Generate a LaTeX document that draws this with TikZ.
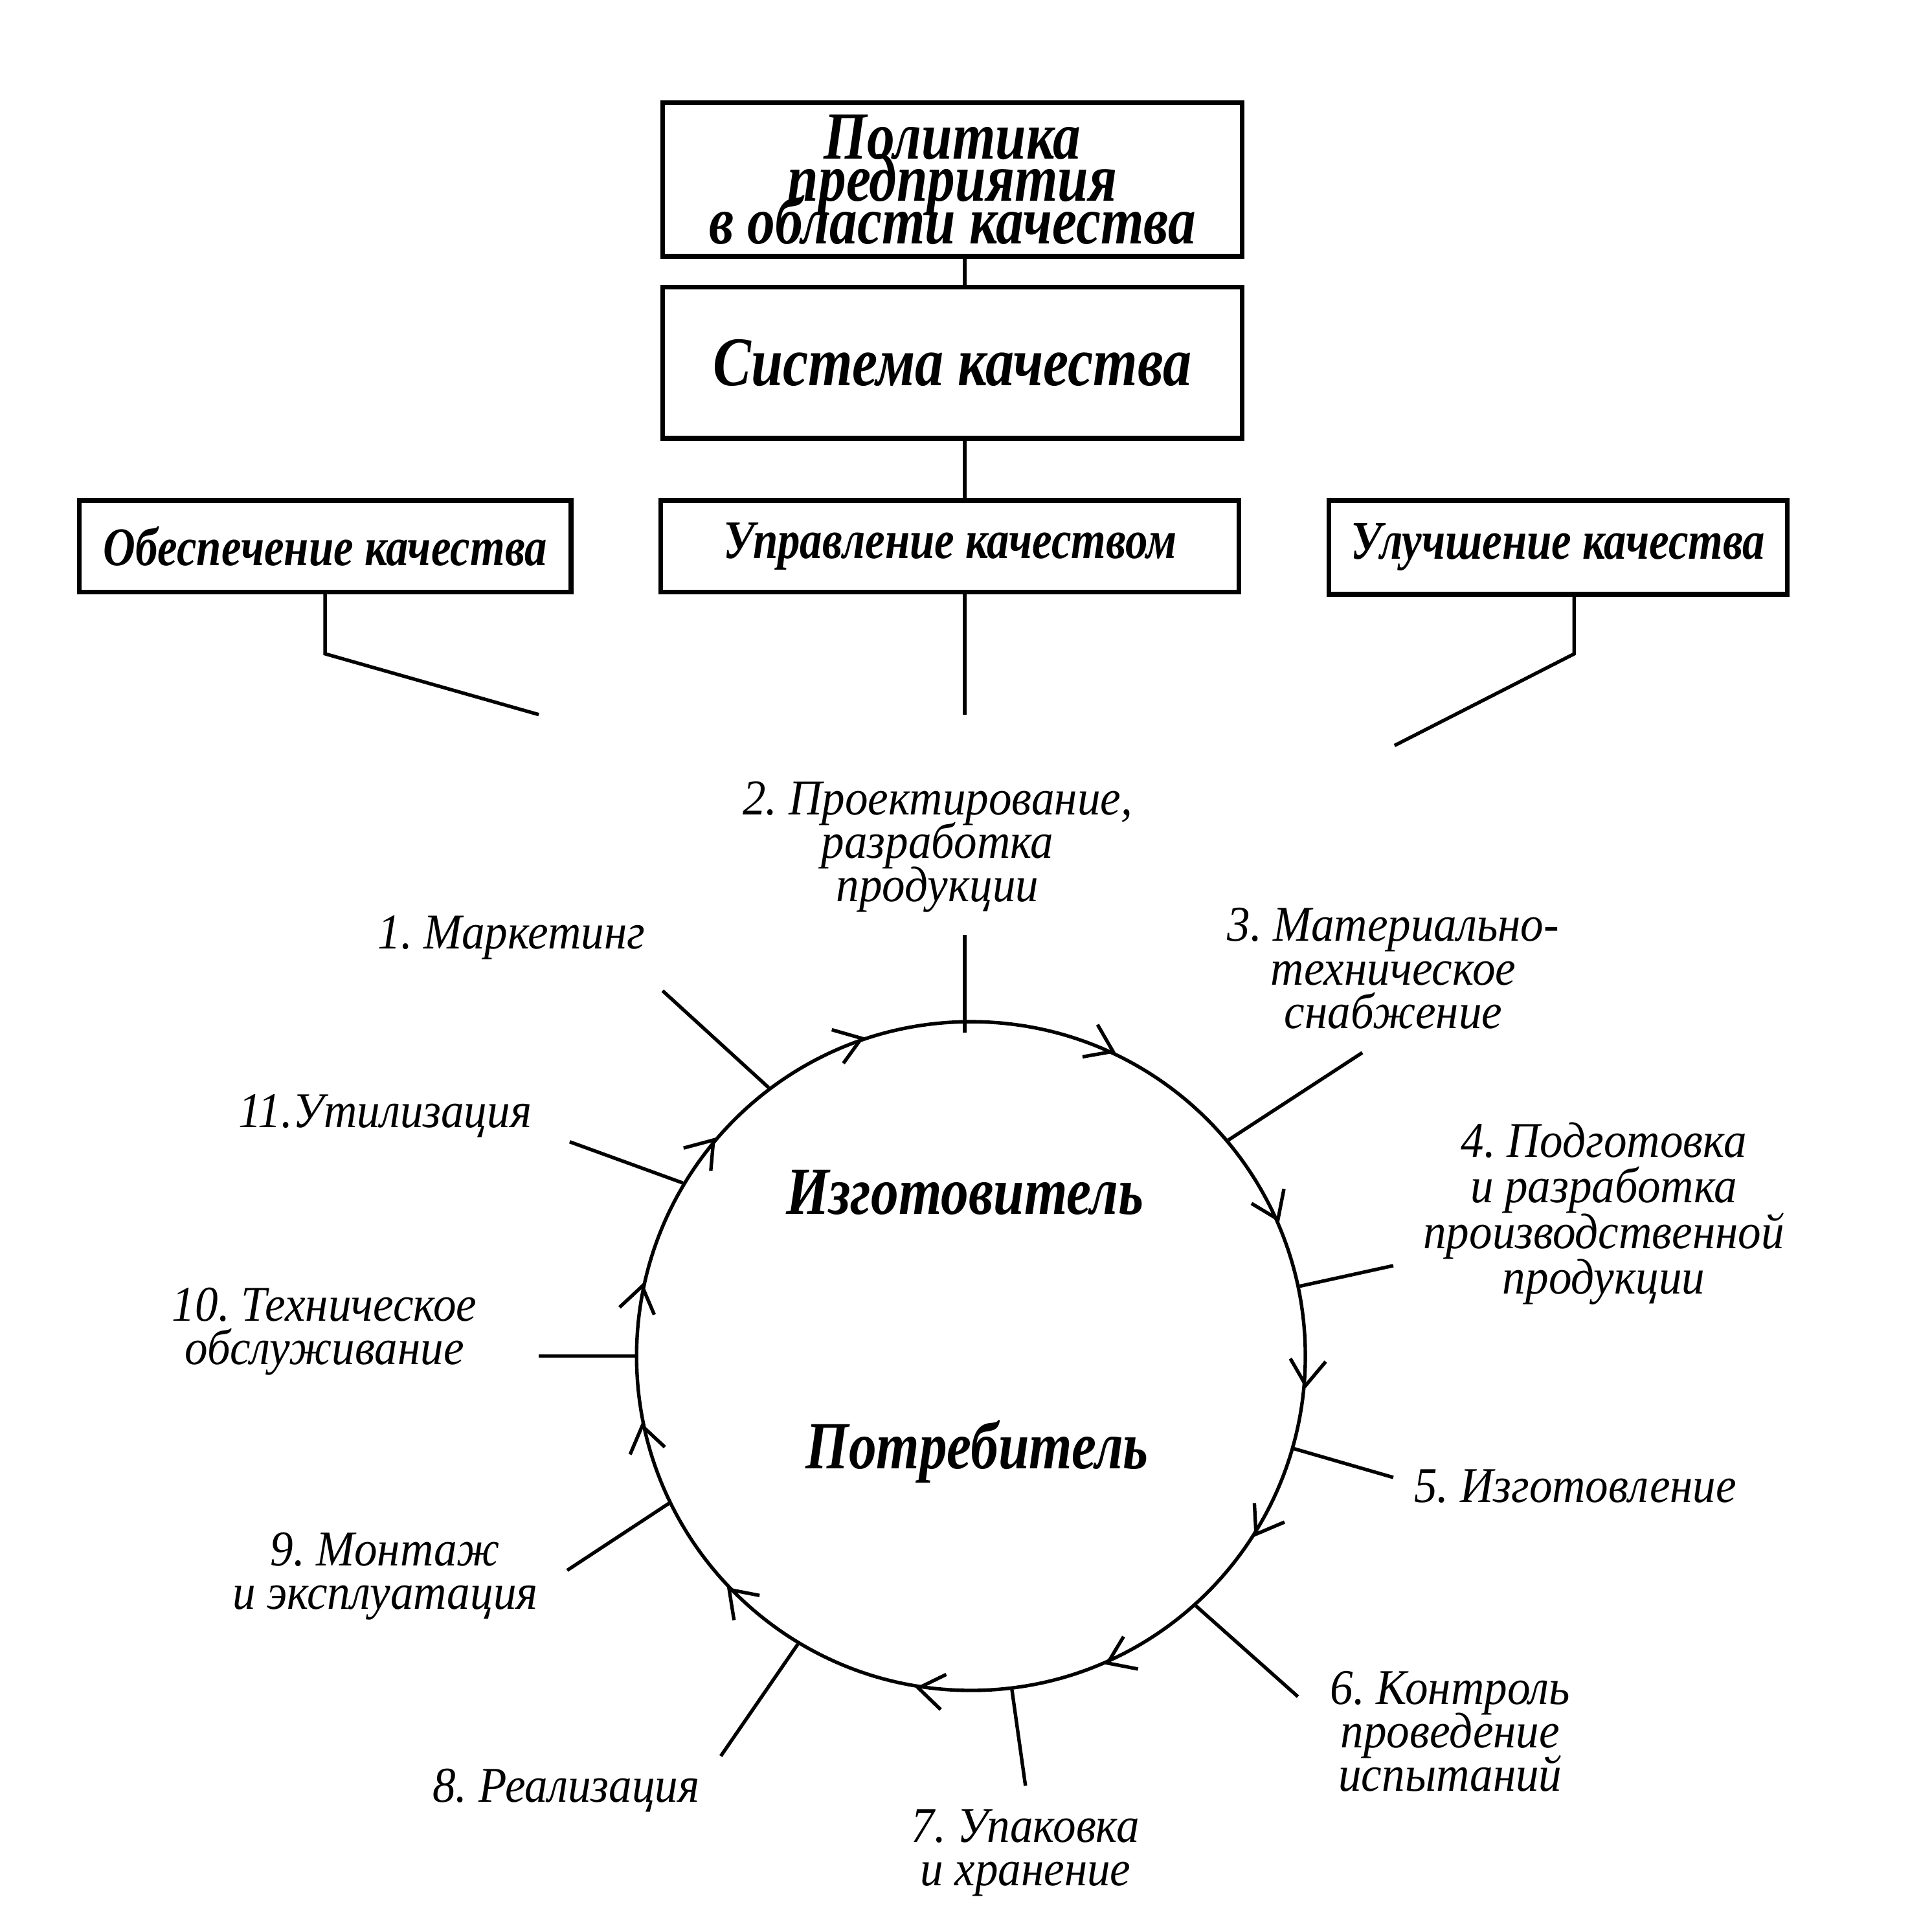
\documentclass[tikz,border=0pt]{standalone}
\usepackage{fontspec}
\setmainfont{Liberation Serif}
\newfontfamily\heavyfont[FakeStretch=0.82]{Liberation Serif}
\newfontfamily\lblfont[FakeStretch=0.92]{Liberation Serif}
\newcommand{\tightlines}{\lineskiplimit -50pt\relax}
\frenchspacing
\begin{document}
\begin{tikzpicture}[x=0.1mm,y=-0.1mm,line width=0.8pt,
 box/.style={draw,line width=1.1pt,inner sep=0pt,align=center},
 big/.style={font={\heavyfont\bfseries\itshape\fontsize{15.5}{9.8}\selectfont\tightlines},align=center},
 mid/.style={font={\heavyfont\bfseries\itshape\fontsize{12.5}{11}\selectfont}},
 lbl/.style={font={\lblfont\itshape\fontsize{11.5}{10}\selectfont\tightlines},align=center,inner sep=0pt}]
 \useasboundingbox (0,0) rectangle (1560,1539);
 \node[box,big,minimum width=46.8mm,minimum height=12.4mm] (pol) at (769,145) {Политика\\предприятия\\в области качества};
 \node[box,big,font={\heavyfont\bfseries\itshape\fontsize{16}{10}\selectfont},minimum width=46.8mm,minimum height=12.2mm] (sys) at (769,293) {Система качества};
 \node[box,mid,minimum width=39.7mm,minimum height=7.4mm] (obs) at (262.5,441) {Обеспечение качества};
 \node[box,mid,minimum width=46.7mm,minimum height=7.4mm] (upr) at (767,441) {Управление качеством};
 \node[box,mid,minimum width=37mm,minimum height=7.6mm] (ulu) at (1258,442) {Улучшение качества};
 \coordinate (obsE) at (435,577);
 \coordinate (uprE) at (779,577);
 \coordinate (uluE) at (1126,602);
 \draw (pol.south -| uprE) -- (sys.north -| uprE);
 \draw (sys.south -| uprE) -- (upr.north -| uprE);
 \draw (obs.south) -- ++(0,48) -- (obsE);
 \draw (upr.south -| uprE) -- (uprE);
 \draw (ulu.south -| 1271,0) -- (1271,528) -- (uluE);

 \node[draw,circle,inner sep=0pt,minimum size=54mm] (cyc) at (784,1095) {};
 \node[big] (izg) at (779,963) {Изготовитель};
 \node[big] (pot) at (789,1172) {Потребитель};

 \node[lbl] (mk) at (413,757) {1. Маркетинг};
 \node[lbl] (pr) at (757,684) {2. Проектирование,\\разработка\\продукции};
 \node[lbl] (mt) at (1125,782) {3. Материально-\\техническое\\снабжение};
 \node[lbl,font={\lblfont\itshape\fontsize{11.5}{10.5}\selectfont\tightlines}] (pd) at (1295,980) {4. Подготовка\\и разработка\\производственной\\продукции};
 \node[lbl] (iz) at (1272,1200) {5. Изготовление};
 \node[lbl] (kn) at (1171,1398) {6. Контроль\\проведение\\испытаний};
 \node[lbl] (up) at (828,1496) {7. Упаковка\\и хранение};
 \node[lbl] (re) at (457,1446) {8. Реализация};
 \node[lbl] (mn) at (311,1273) {9. Монтаж\\и эксплуатация};
 \node[lbl] (to) at (262,1075) {10. Техническое\\обслуживание};
 \node[lbl] (ut) at (311,901) {11.Утилизация};

 \coordinate (prE) at (779,755);
 \coordinate (mkE) at (535,800);
 \coordinate (mtE) at (1100,850);
 \coordinate (pdE) at (1125,1022);
 \coordinate (izE) at (1125,1193);
 \coordinate (knE) at (1048,1370);
 \coordinate (upE) at (828,1442);
 \coordinate (reE) at (582,1418);
 \coordinate (mnE) at (458,1268);
 \coordinate (toE) at (435,1095);
 \coordinate (utE) at (460,922);
 \draw (prE) -- ([yshift=-1mm]prE |- cyc.north);
 \draw (mkE) -- (cyc.127);
 \draw (mtE) -- (cyc.40.5);
 \draw (pdE) -- (cyc.12);
 \draw (izE) -- (cyc.344.5);
 \draw (knE) -- (cyc.312);
 \draw (upE) -- (cyc.277);
 \draw (reE) -- (cyc.239);
 \draw (mnE) -- (cyc.206.5);
 \draw (toE) -- (cyc.180);
 \draw (utE) -- (cyc.149.5);

 \draw ([shift={(234:2.5mm)}]cyc.109) -- (cyc.109) -- ([shift={(164:2.5mm)}]cyc.109);
 \draw ([shift={(190:2.5mm)}]cyc.65) -- (cyc.65) -- ([shift={(120:2.5mm)}]cyc.65);
 \draw ([shift={(149:2.5mm)}]cyc.24) -- (cyc.24) -- ([shift={(79:2.5mm)}]cyc.24);
 \draw ([shift={(120:2.5mm)}]cyc.355) -- (cyc.355) -- ([shift={(50:2.5mm)}]cyc.355);
 \draw ([shift={(93:2.5mm)}]cyc.328) -- (cyc.328) -- ([shift={(23:2.5mm)}]cyc.328);
 \draw ([shift={(59:2.5mm)}]cyc.294) -- (cyc.294) -- ([shift={(-11:2.5mm)}]cyc.294);
 \draw ([shift={(26:2.5mm)}]cyc.261) -- (cyc.261) -- ([shift={(-44:2.5mm)}]cyc.261);
 \draw ([shift={(349:2.5mm)}]cyc.224) -- (cyc.224) -- ([shift={(279:2.5mm)}]cyc.224);
 \draw ([shift={(317:2.5mm)}]cyc.192) -- (cyc.192) -- ([shift={(247:2.5mm)}]cyc.192);
 \draw ([shift={(293:2.5mm)}]cyc.168) -- (cyc.168) -- ([shift={(223:2.5mm)}]cyc.168);
 \draw ([shift={(265:2.5mm)}]cyc.140) -- (cyc.140) -- ([shift={(195:2.5mm)}]cyc.140);
\end{tikzpicture}
\end{document}
